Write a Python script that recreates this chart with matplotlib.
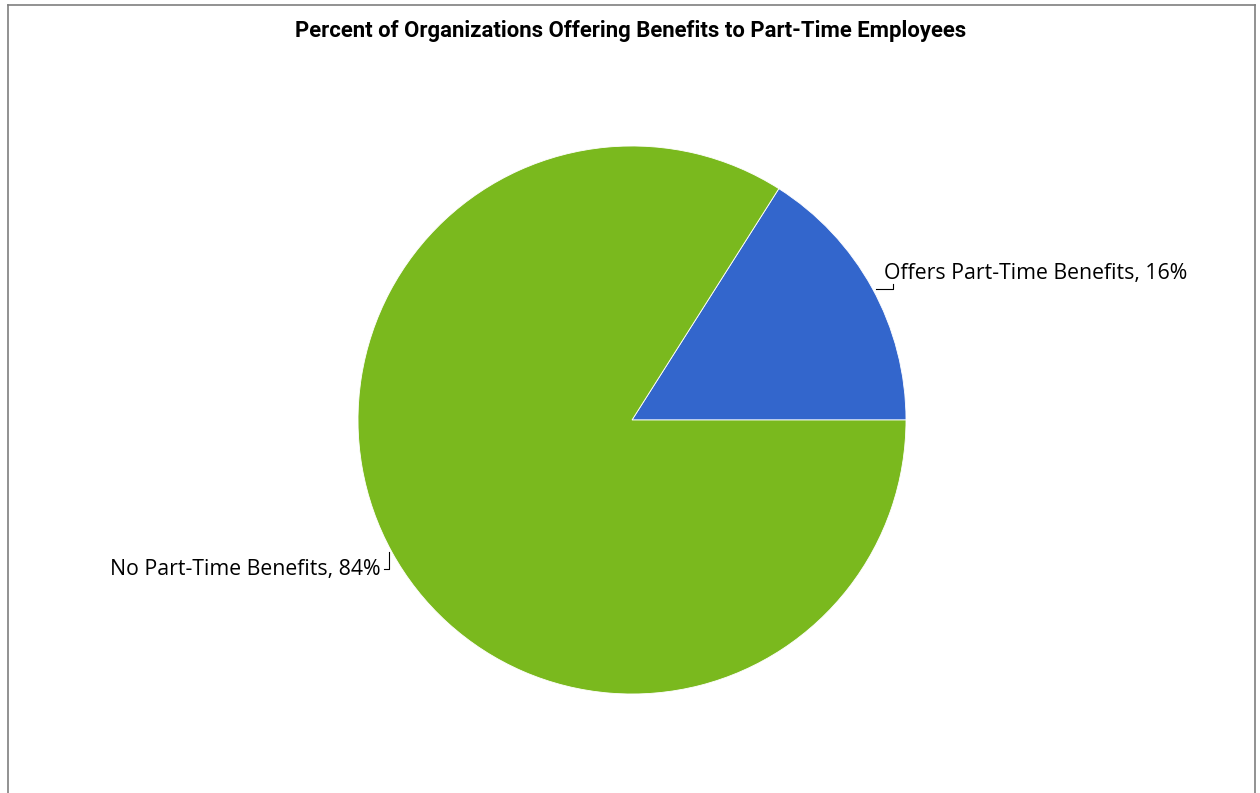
import numpy as np
from matplotlib import pyplot as plt
from matplotlib.lines import Line2D

# data
labels = ['Offers Part-Time Benefits', 'No Part-Time Benefits']
shares = [16, 84]
colors = ['#3366CC', '#7AB91E']
title = 'Percent of Organizations Offering Benefits to Part-Time Employees'

W, H = 1260, 793
fig = plt.figure(figsize=(W / 100, H / 100), dpi=100)

# pie centre and radius in pixels
cx, cy, r = 632, 420, 274
ax = fig.add_axes([(cx - r) / W, (H - cy - r) / H, 2 * r / W, 2 * r / H])
ax.pie(shares, colors=colors, startangle=0, counterclock=True,
       wedgeprops=dict(edgecolor='white', linewidth=0.6))
ax.set_xlim(-1, 1)
ax.set_ylim(-1, 1)
ax.set_aspect('equal')
ax.axis('off')

def px(x, y):
    # pixel position -> data coords of the pie axes
    return (x - cx) / r, (cy - y) / r

font = ['Open Sans', 'DejaVu Sans']

# label for the small slice
x0, y0 = px(884, 273)
ax.text(x0, y0, f'{labels[0]}, {shares[0]}%', ha='left', va='center',
        fontsize=15.3, family=font, clip_on=False)
lx, ly = zip(px(876, 289), px(893, 289), px(893, 284))
ax.plot(lx, ly, color='black', lw=0.8, clip_on=False)

# label for the big slice
x1, y1 = px(380, 569)
ax.text(x1, y1, f'{labels[1]}, {shares[1]}%', ha='right', va='center',
        fontsize=15.3, family=font, clip_on=False)
lx, ly = zip(px(384, 569), px(389, 569), px(389, 552))
ax.plot(lx, ly, color='black', lw=0.8, clip_on=False)

fig.text(631 / W, 1 - 31 / H, title, ha='center', va='center',
         fontsize=15.9, fontweight='bold',
         family=['Roboto', 'DejaVu Sans'])

# chart border (bottom edge is cut off)
gray = '#7f7f7f'
fig.add_artist(Line2D([8 / W, 1255 / W], [1 - 5 / H, 1 - 5 / H], color=gray, lw=1.2))
fig.add_artist(Line2D([8 / W, 8 / W], [0, 1 - 5 / H], color=gray, lw=1.2))
fig.add_artist(Line2D([1255 / W, 1255 / W], [0, 1 - 5 / H], color=gray, lw=1.2))

fig.savefig('out.png', dpi=100)
